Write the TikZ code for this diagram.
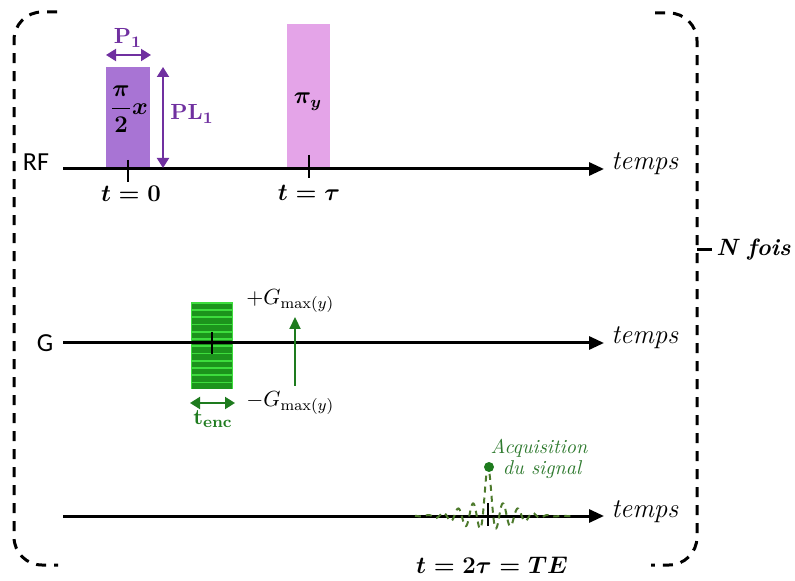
\documentclass[tikz,border=0pt]{standalone}
\usepackage{fontspec}
\usepackage{amsmath}
\usetikzlibrary{arrows.meta}
\newfontfamily\calibrifont{Carlito}
\definecolor{pulseA}{HTML}{A874D4}
\definecolor{pulseB}{HTML}{E4A4E8}
\definecolor{lblpurple}{HTML}{7030A0}
\definecolor{gdark}{HTML}{1C941C}
\definecolor{glight}{HTML}{3DDC3D}
\definecolor{garrow}{HTML}{1E7B1E}
\definecolor{sigcol}{HTML}{4D7A2C}
\definecolor{sigtext}{HTML}{2F7A2F}
\begin{document}
\begin{tikzpicture}[x=0.5pt,y=-0.5pt,
  axis/.style={line width=1.5pt,-{Triangle[length=7.5pt,width=6.5pt]}},
  tickmark/.style={line width=1.3pt},
  bracket/.style={line width=1.5pt,dash pattern=on 5pt off 4pt,rounded corners=14pt},
  dimarrow/.style={line width=1pt,{Triangle[length=5pt,width=6pt]}-{Triangle[length=5pt,width=6pt]}},
  pulse/.style={draw=none,inner sep=0pt,outer sep=0pt},
  timelbl/.style={font=\fontsize{11.5}{13}\selectfont\boldmath},
  templbl/.style={font=\fontsize{13.5}{15}\selectfont\itshape,anchor=base west,inner sep=0pt},
  chanlbl/.style={font=\fontsize{13}{15}\selectfont\calibrifont},
  plbl/.style={font=\fontsize{11}{13}\selectfont\boldmath,text=lblpurple},
  glbl/.style={font=\fontsize{11}{13}\selectfont,anchor=west,inner sep=0pt},
  siglbl/.style={font=\fontsize{10}{12}\selectfont\itshape,text=sigtext}
]
\useasboundingbox (0,0) rectangle (795,581);

% ---------- brackets ----------
\coordinate (bl0) at (57,12);
\coordinate (bl1) at (14,565);
\coordinate (bl2) at (58,565);
\draw[bracket] (bl0) -| (bl1) -- (bl2);
\coordinate (br0) at (655,13);
\coordinate (br1) at (697,565);
\coordinate (br2) at (651,565);
\draw[bracket] (br0) -| (br1) -- (br2);
\coordinate (bt0) at (697,250);
\coordinate (bt1) at (712,250);
\draw[line width=1.5pt] (bt0) -- (bt1);
\node[font=\fontsize{11.8}{14}\selectfont\bfseries\itshape,anchor=west,inner sep=0pt] (nfois) at (716,250) {N fois};

% ---------- RF line ----------
\node[pulse,fill=pulseA,minimum width=22pt,minimum height=50pt] (p1) at (128,117) {};
\node[pulse,fill=pulseB,minimum width=21.5pt,minimum height=71.5pt] (p2) at (308.5,95.5) {};
\node[font=\fontsize{12.5}{14}\selectfont\boldmath] (p1lbl) at (129,109) {$\dfrac{\pi}{2}x$};
\node[font=\fontsize{12}{14}\selectfont\boldmath] (p2lbl) at (308,102) {$\pi_y$};

\coordinate (rf0) at (63,169);
\coordinate (rf1) at (604,169);
\draw[axis] (rf0) -- (rf1);
\node[chanlbl] (rf) at (36,162) {RF};
\node[templbl] (t1) at (611,170) {temps};

\coordinate (k1a) at (128,160); \coordinate (k1b) at (128,182);
\draw[tickmark] (k1a) -- (k1b);
\coordinate (k2a) at (309,155); \coordinate (k2b) at (309,178);
\draw[tickmark] (k2a) -- (k2b);
\node[timelbl] (tz) at (131,194) {$t=0$};
\node[timelbl] (ttau) at (309,193) {$t=\tau$};

% P1 and PL1
\coordinate (pa0) at (106,55); \coordinate (pa1) at (151,55);
\draw[dimarrow,lblpurple] (pa0) -- (pa1);
\node[plbl] (P1) at (128,38) {$\mathbf{P_1}$};
\coordinate (pl0) at (163,67); \coordinate (pl1) at (163,168);
\draw[dimarrow,lblpurple] (pl0) -- (pl1);
\node[plbl,anchor=west,inner sep=0pt] (PL1) at (170,114) {$\mathbf{PL_1}$};

% ---------- G line ----------
\fill[glight] (191,302) rectangle (233,389);
\foreach \i in {0,...,11}{
  \fill[gdark] (192,{302+\i*7.25+1.7}) rectangle (232,{302+(\i+1)*7.25});
}
\node[pulse,minimum width=21pt,minimum height=43.5pt] (genc) at (212,345.5) {};

\coordinate (g0) at (63,343);
\coordinate (g1) at (604,343);
\draw[axis] (g0) -- (g1);
\node[chanlbl] (G) at (45,343) {G};
\node[templbl] (t2) at (611,344) {temps};
\coordinate (k3a) at (212,332); \coordinate (k3b) at (212,354);
\draw[tickmark] (k3a) -- (k3b);

\coordinate (te0) at (190,403); \coordinate (te1) at (235,403);
\draw[dimarrow,garrow] (te0) -- (te1);
\node[font=\fontsize{11}{13}\selectfont\boldmath,text=garrow] (tenc) at (213,419) {$\mathbf{t_{enc}}$};

\coordinate (ga0) at (295,386); \coordinate (ga1) at (295,317);
\draw[line width=1.1pt,garrow,-{Triangle[length=6pt,width=5.5pt]}] (ga0) -- (ga1);
\node[glbl] (gplus) at (246,301) {$+G_{\mathrm{max}(y)}$};
\node[glbl] (gminus) at (246,403) {$-G_{\mathrm{max}(y)}$};

% ---------- signal line ----------
\coordinate (s0) at (63,516);
\coordinate (s1) at (604,516);
\draw[axis] (s0) -- (s1);
\node[templbl] (t3) at (611,517) {temps};

\draw[sigcol,line width=1pt,dash pattern=on 3pt off 2.5pt]
  plot[domain=-73:87,samples=400] ({488+\x},{516-34*exp(-min((\x/4.5)^2,20))-15*cos(24*\x)*exp(-min((\x/36)^2,20))});
\node[circle,fill=garrow,inner sep=0pt,minimum size=5pt] (dot) at (489,467) {};
\coordinate (k4a) at (488,503); \coordinate (k4b) at (488,526);
\draw[tickmark] (k4a) -- (k4b);
\node[siglbl] (acq1) at (539,448) {Acquisition};
\node[siglbl] (acq2) at (542,470) {du signal};
\node[timelbl] (tte) at (492,565) {$t=2\tau=TE$};
\end{tikzpicture}
\end{document}
